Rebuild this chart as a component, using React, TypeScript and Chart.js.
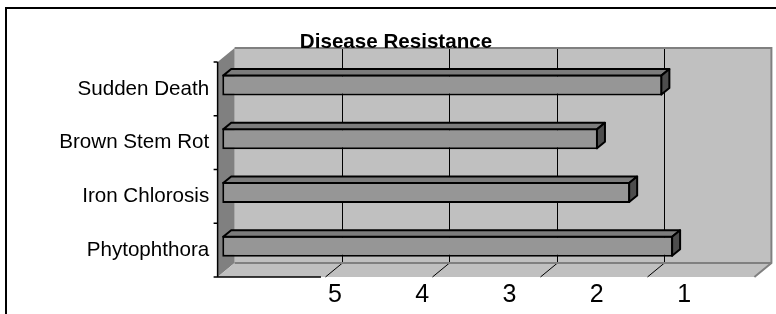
import { useEffect, useRef } from 'react';
import { Chart, registerables } from 'chart.js';

Chart.register(...registerables);

// ---- data ----
const categories = ['Sudden Death', 'Brown Stem Rot', 'Iron Chlorosis', 'Phytophthora'];
const resistance = [1.9, 2.5, 2.2, 1.8];
const axisMin = 1;
const axisMax = 6;
const tickValues = [5, 4, 3, 2, 1];
const chartTitle = 'Disease Resistance';

// ---- 3D styling ----
const DEPTH_DX = 17;
const DEPTH_DY = -14;
const BAR_PLANE = 0.27; // depth fraction of the bar front face
const BAR_DEPTH = 0.47; // depth fraction of the bar body

const box3d = {
  id: 'box3d',
  beforeDraw(chart: any) {
    const { ctx, chartArea: a, scales } = chart;
    const xs = scales.x;
    const ys = scales.y;
    const x2 = scales.x2;
    const fx = -BAR_PLANE * DEPTH_DX, fy = -BAR_PLANE * DEPTH_DY;
    const bx = (1 - BAR_PLANE) * DEPTH_DX, by = (1 - BAR_PLANE) * DEPTH_DY;
    const F = { l: a.left + fx, r: a.right + fx, t: a.top + fy, b: a.bottom + fy };
    const B = { l: a.left + bx, r: a.right + bx, t: a.top + by, b: a.bottom + by };
    const poly = (pts: number[][], fill: string) => {
      ctx.beginPath();
      ctx.moveTo(pts[0][0], pts[0][1]);
      for (let i = 1; i < pts.length; i++) ctx.lineTo(pts[i][0], pts[i][1]);
      ctx.closePath();
      ctx.fillStyle = fill;
      ctx.fill();
    };
    ctx.save();
    // outer frame
    ctx.strokeStyle = '#000';
    ctx.lineWidth = 2;
    ctx.strokeRect(6, 8, chart.width + 20, chart.height + 20);
    // back wall
    poly([[B.l, B.t], [B.r, B.t], [B.r, B.b], [B.l, B.b]], '#c0c0c0');
    // left wall
    poly([[F.l, F.t], [B.l, B.t], [B.l, B.b], [F.l, F.b]], '#808080');
    // floor
    poly([[F.l, F.b], [B.l, B.b], [B.r, B.b], [F.r, F.b]], '#c0c0c0');
    // gridlines on wall + floor
    ctx.strokeStyle = '#000';
    ctx.lineWidth = 1;
    tickValues.forEach((v) => {
      if (v === axisMin) return;
      const px = Math.round(xs.getPixelForValue(v) + bx) + 0.5;
      ctx.beginPath();
      ctx.moveTo(px, B.t);
      ctx.lineTo(px, B.b);
      ctx.lineTo(px - bx + fx, F.b);
      ctx.stroke();
    });
    // grey borders
    ctx.strokeStyle = '#808080';
    ctx.lineWidth = 2;
    ctx.beginPath();
    ctx.moveTo(B.l, B.t);
    ctx.lineTo(B.r, B.t);
    ctx.lineTo(B.r, B.b);
    ctx.lineTo(F.r, F.b);
    ctx.moveTo(B.l, B.b);
    ctx.lineTo(B.r, B.b);
    ctx.stroke();
    // category axis line + ticks
    ctx.strokeStyle = '#000';
    ctx.lineWidth = 1.5;
    const boxLeft = x2.getPixelForValue(tickValues[0]) - 14;
    ctx.beginPath();
    ctx.moveTo(F.l, F.t);
    ctx.lineTo(F.l, F.b);
    ctx.lineTo(boxLeft, F.b);
    for (let i = 0; i <= categories.length; i++) {
      const y = ys.getPixelForValue(i - 0.5) + fy;
      ctx.moveTo(F.l - 4, y);
      ctx.lineTo(F.l, y);
    }
    ctx.stroke();
    ctx.restore();
  },
  afterDatasetsDraw(chart: any) {
    const { ctx } = chart;
    const meta = chart.getDatasetMeta(0);
    const dx = BAR_DEPTH * DEPTH_DX, dy = BAR_DEPTH * DEPTH_DY;
    ctx.save();
    ctx.strokeStyle = '#000';
    ctx.lineWidth = 2;
    ctx.lineJoin = 'round';
    meta.data.forEach((el: any) => {
      const { x, y, base, height } = el.getProps(['x', 'y', 'base', 'height'], true);
      const l = Math.min(x, base) + 1, r = Math.max(x, base) - 1;
      const t = y - height / 2 + 1, b = y + height / 2 - 1;
      ctx.beginPath();
      ctx.moveTo(l, t);
      ctx.lineTo(l + dx, t + dy);
      ctx.lineTo(r + dx, t + dy);
      ctx.lineTo(r, t);
      ctx.closePath();
      ctx.fillStyle = '#7c7c7c';
      ctx.fill();
      ctx.stroke();
      ctx.beginPath();
      ctx.moveTo(r, t);
      ctx.lineTo(r + dx, t + dy);
      ctx.lineTo(r + dx, b + dy);
      ctx.lineTo(r, b);
      ctx.closePath();
      ctx.fillStyle = '#4d4d4d';
      ctx.fill();
      ctx.stroke();
    });
    ctx.restore();
  },
};

export default function App() {
  const ref = useRef<HTMLCanvasElement | null>(null);
  useEffect(() => {
    if (!ref.current) return;
    Chart.defaults.font.family = '"Liberation Sans", Arial, sans-serif';
    const chart = new Chart(ref.current, {
      type: 'bar',
      data: {
        labels: categories,
        datasets: [
          {
            data: resistance.map((v) => [axisMax, v]) as any,
            xAxisID: 'x',
            backgroundColor: '#969696',
            borderColor: '#000',
            borderWidth: 2,
            borderSkipped: false,
            barPercentage: 0.39,
            categoryPercentage: 1,
          },
        ],
      },
      options: {
        indexAxis: 'y',
        animation: false,
        responsive: false,
        devicePixelRatio: 1,
        layout: { padding: { left: 33, right: 17, top: 0, bottom: 0 } },
        plugins: {
          legend: { display: false },
          tooltip: { enabled: false },
          title: {
            display: true,
            text: chartTitle,
            color: '#000',
            font: { size: 20.6, weight: 'bold', lineHeight: 1.2 },
            padding: { top: 30, bottom: 3.5 },
          },
        },
        scales: {
          x: { type: 'linear', min: axisMin, max: axisMax, reverse: true, display: false },
          y: {
            grid: { display: false, drawTicks: false },
            border: { display: false },
            ticks: { color: '#000', font: { size: 20.6 }, padding: 13, labelOffset: 3.8 },
            afterFit: (s: any) => {
              s.width = 189.2;
            },
          },
          x2: {
            type: 'linear',
            position: 'bottom',
            min: 0.142,
            max: 6.292,
            reverse: true,
            grid: { display: false, drawTicks: false },
            border: { display: false },
            ticks: { color: '#000', font: { size: 25 }, padding: 6.8 },
            afterBuildTicks: (s: any) => {
              s.ticks = tickValues.map((v) => ({ value: v }));
            },
            afterFit: (s: any) => {
              s.height = 40.8;
            },
          },
        } as any,
      },
      plugins: [box3d],
    });
    return () => chart.destroy();
  }, []);
  return (
    <div style={{ position: 'fixed', left: 0, top: 0, width: 776, height: 314 }}>
      <canvas ref={ref} width={776} height={314} style={{ display: 'block' }} />
    </div>
  );
}
